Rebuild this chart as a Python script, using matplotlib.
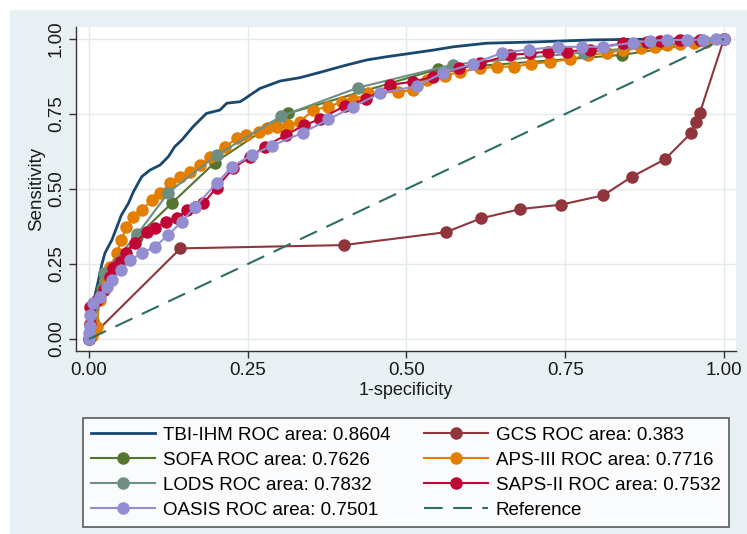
import matplotlib
matplotlib.use("Agg")
import matplotlib.pyplot as plt
from matplotlib.patches import Rectangle

plt.rcParams['font.family'] = ['Liberation Sans', 'DejaVu Sans']

# ---------------- data ----------------
tbi_x = [0, 0.003, 0.009, 0.015, 0.020, 0.025, 0.036, 0.044, 0.051, 0.062, 0.070, 0.083, 0.096,
         0.112, 0.125, 0.135, 0.146, 0.164, 0.185, 0.206, 0.217, 0.238, 0.246, 0.269, 0.301, 0.332,
         0.364, 0.400, 0.437, 0.469, 0.506, 0.542, 0.574, 0.626, 0.700, 0.794, 0.900, 1.0]
tbi_y = [0, 0.07, 0.141, 0.197, 0.247, 0.286, 0.33, 0.374, 0.413, 0.452, 0.491, 0.541, 0.563,
         0.58, 0.608, 0.641, 0.663, 0.708, 0.752, 0.763, 0.786, 0.791, 0.802, 0.835, 0.86, 0.871,
         0.889, 0.91, 0.93, 0.941, 0.952, 0.963, 0.974, 0.986, 0.99, 0.997, 1.0, 1.0]

gcs_x = [0, 0.144, 0.401, 0.562, 0.617, 0.679, 0.744, 0.810, 0.855, 0.907, 0.948, 0.956, 0.962, 1.0]
gcs_y = [0, 0.302, 0.313, 0.356, 0.402, 0.433, 0.448, 0.479, 0.541, 0.599, 0.686, 0.722, 0.754, 1.0]

sofa_x = [0, 0.006, 0.02, 0.075, 0.130, 0.198, 0.314, 0.55, 0.840, 1.0]
sofa_y = [0, 0.06, 0.17, 0.34, 0.452, 0.588, 0.752, 0.90, 0.947, 1.0]

aps_x = [0, 0.005, 0.012, 0.017, 0.025, 0.033, 0.044, 0.051, 0.059, 0.070, 0.083, 0.099, 0.112,
         0.128, 0.143, 0.159, 0.175, 0.191, 0.214, 0.233, 0.248, 0.267, 0.280, 0.296, 0.314, 0.332,
         0.353, 0.377, 0.398, 0.416, 0.440, 0.487, 0.511, 0.532, 0.560, 0.584, 0.616, 0.642, 0.669,
         0.696, 0.726, 0.757, 0.786, 0.815, 0.841, 0.870, 0.891, 0.910, 0.931, 0.952, 0.972, 1.0]
aps_y = [0, 0.01, 0.041, 0.13, 0.197, 0.241, 0.286, 0.33, 0.374, 0.408, 0.43, 0.463, 0.486,
         0.519, 0.541, 0.558, 0.58, 0.608, 0.641, 0.669, 0.68, 0.691, 0.702, 0.708, 0.713, 0.724,
         0.763, 0.774, 0.791, 0.797, 0.819, 0.824, 0.83, 0.863, 0.877, 0.891, 0.902, 0.908, 0.908,
         0.917, 0.924, 0.932, 0.947, 0.954, 0.963, 0.969, 0.974, 0.98, 0.983, 0.988, 0.991, 1.0]

lods_x = [0, 0.005, 0.023, 0.076, 0.125, 0.201, 0.303, 0.424, 0.574, 0.78, 1.0]
lods_y = [0, 0.10, 0.219, 0.349, 0.488, 0.613, 0.743, 0.838, 0.915, 0.955, 1.0]

saps_x = [0, 0.001, 0.002, 0.012, 0.023, 0.033, 0.038, 0.049, 0.059, 0.072, 0.091, 0.104, 0.122,
          0.138, 0.154, 0.167, 0.180, 0.201, 0.227, 0.254, 0.277, 0.310, 0.339, 0.363, 0.403,
          0.437, 0.474, 0.511, 0.542, 0.582, 0.616, 0.663, 0.694, 0.723, 0.752, 0.789, 0.841,
          0.878, 0.899, 0.931, 0.962, 1.0]
saps_y = [0, 0.05, 0.108, 0.13, 0.163, 0.208, 0.236, 0.258, 0.286, 0.319, 0.358, 0.369, 0.391,
          0.402, 0.43, 0.441, 0.452, 0.505, 0.569, 0.608, 0.641, 0.68, 0.713, 0.732, 0.777,
          0.799, 0.847, 0.858, 0.874, 0.902, 0.919, 0.947, 0.952, 0.958, 0.958, 0.965, 0.986,
          0.991, 0.994, 0.998, 0.998, 1.0]

oasis_x = [0, 0, 0.001, 0.002, 0.007, 0.017, 0.028, 0.036, 0.051, 0.065, 0.083, 0.104, 0.125,
           0.146, 0.167, 0.201, 0.225, 0.256, 0.288, 0.337, 0.377, 0.416, 0.458, 0.516, 0.558,
           0.605, 0.650, 0.693, 0.739, 0.776, 0.810, 0.857, 0.883, 0.910, 0.941, 0.967, 0.988, 1.0]
oasis_y = [0, 0.019, 0.045, 0.08, 0.119, 0.141, 0.174, 0.197, 0.23, 0.263, 0.286, 0.308, 0.347,
           0.391, 0.441, 0.519, 0.574, 0.613, 0.644, 0.688, 0.732, 0.774, 0.819, 0.843, 0.888,
           0.917, 0.954, 0.965, 0.974, 0.974, 0.974, 0.988, 0.994, 0.997, 0.997, 0.998, 1.0, 1.0]

ref_x = [0, 1]
ref_y = [0, 1]

labels = ["TBI-IHM ROC area: 0.8604", "GCS ROC area: 0.383", "SOFA ROC area: 0.7626",
          "APS-III ROC area: 0.7716", "LODS ROC area: 0.7832", "SAPS-II ROC area: 0.7532",
          "OASIS ROC area: 0.7501", "Reference"]
ticks = [0.0, 0.25, 0.5, 0.75, 1.0]
tick_labels = ["0.00", "0.25", "0.50", "0.75", "1.00"]

# ---------------- figure ----------------
W, H = 747, 534
fig = plt.figure(figsize=(W / 100, H / 100), dpi=100, facecolor='white')
fig.patches.append(Rectangle((10 / W, 0), 1 - 10 / W, 1 - 10 / H, transform=fig.transFigure,
                             facecolor='#e9f0f3', edgecolor='none', zorder=-10))

ax = fig.add_axes([76 / W, 1 - 351 / H, (736 - 76) / W, (351 - 27) / H])
ax.set_facecolor('white')
ax.set_xlim(-13 / 635, 1 + 12 / 635)
ax.set_ylim(-12 / 300, 1 + 12 / 300)

for s in ['top', 'right']:
    ax.spines[s].set_visible(False)
for s in ['left', 'bottom']:
    ax.spines[s].set_color('#333333')
    ax.spines[s].set_linewidth(1.0)

ax.set_xticks(ticks)
ax.set_xticklabels(tick_labels)
ax.set_yticks(ticks)
ax.set_yticklabels(tick_labels, rotation=90, va='center')
ax.tick_params(axis='both', direction='out', length=5, width=1, color='#333333',
               labelsize=13.5, labelcolor='#1a1a1a', pad=3)
ax.grid(True, color='#e2eaee', linewidth=1.0)
ax.set_axisbelow(True)

ax.set_xlabel("1-specificity", fontsize=13, color='#1a1a1a', labelpad=2)
ax.set_ylabel("Sensitivity", fontsize=13.5, color='#1a1a1a', labelpad=2)

ms = 8
lw = 1.5
h_tbi, = ax.plot(tbi_x, tbi_y, color='#1a476f', lw=2.0, label=labels[0])
h_gcs, = ax.plot(gcs_x, gcs_y, color='#90353b', lw=lw, marker='o', ms=ms, label=labels[1])
h_sofa, = ax.plot(sofa_x, sofa_y, color='#55752f', lw=lw, marker='o', ms=ms, label=labels[2])
h_aps, = ax.plot(aps_x, aps_y, color='#e37e00', lw=lw, marker='o', ms=ms, label=labels[3])
h_lods, = ax.plot(lods_x, lods_y, color='#6e8e84', lw=lw, marker='o', ms=ms, label=labels[4])
h_saps, = ax.plot(saps_x, saps_y, color='#c10534', lw=lw, marker='o', ms=ms, label=labels[5])
h_oasis, = ax.plot(oasis_x, oasis_y, color='#938dd2', lw=lw, marker='o', ms=ms, label=labels[6])
h_ref, = ax.plot(ref_x, ref_y, color='#2d6d66', lw=1.5, dashes=(9, 5), label=labels[7])

handles = [h_tbi, h_sofa, h_lods, h_oasis, h_gcs, h_aps, h_saps, h_ref]
leg = fig.legend(handles=handles, labels=[h.get_label() for h in handles], ncol=2,
                 loc='lower left', bbox_to_anchor=(83 / W, 7 / H, (729 - 83) / W, 0.2),
                 mode='expand', borderaxespad=0, fontsize=13.5, frameon=True, fancybox=False,
                 edgecolor='#333333', handlelength=3.4, handletextpad=0.4, labelspacing=0.42,
                 borderpad=0.45, columnspacing=1.0)
leg.get_frame().set_linewidth(1.2)
leg.get_frame().set_facecolor('white')

fig.savefig("out.png", dpi=100, facecolor=fig.get_facecolor())
